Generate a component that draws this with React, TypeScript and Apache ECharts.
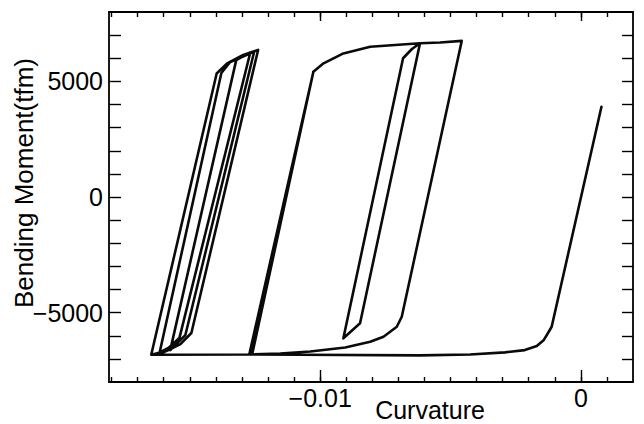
import React, { useEffect, useRef } from "react";
import * as echarts from "echarts";

// Axis ranges and tick positions
const xRange = [-0.0181, 0.002];
const yRange = [-8000, 8000];
const xMajorTicks = [-0.01, 0];
const xMinorTicks = [
  -0.018, -0.017, -0.016, -0.015, -0.014, -0.013, -0.012, -0.011, -0.01, -0.009,
  -0.008, -0.007, -0.006, -0.005, -0.004, -0.003, -0.002, -0.001, 0, 0.001,
];
const yMajorTicks = [-5000, 0, 5000];
const yMinorTicks = [
  -7000, -6000, -5000, -4000, -3000, -2000, -1000, 0, 1000, 2000, 3000, 4000, 5000, 6000, 7000,
];

// Moment–curvature history, branch by branch: [curvature, moment (tfm)]
const leftLoad1: [number, number][] = [
  [-0.01648, -6820], [-0.01397, 5340], [-0.01357, 5780], [-0.01295, 6140], [-0.01238, 6360],
];
const leftUnload1: [number, number][] = [
  [-0.01238, 6360], [-0.01494, -5880], [-0.01536, -6360], [-0.01582, -6620], [-0.01617, -6790],
];
const leftLoad2: [number, number][] = [
  [-0.01617, -6790], [-0.01379, 5360], [-0.01345, 5840], [-0.01287, 6120], [-0.01253, 6290],
];
const leftUnload2: [number, number][] = [
  [-0.01253, 6290], [-0.01517, -5970], [-0.01556, -6400], [-0.01575, -6620],
];
const leftLoad3: [number, number][] = [
  [-0.01575, -6620], [-0.01322, 5920], [-0.01268, 6250],
];
const leftUnload3: [number, number][] = [
  [-0.01268, 6250], [-0.0154, -6100], [-0.01582, -6530], [-0.01621, -6750], [-0.01648, -6820],
];
const bottomLeft: [number, number][] = [
  [-0.01648, -6820], [-0.01268, -6810],
];
const middleLoad: [number, number][] = [
  [-0.01268, -6810], [-0.01026, 5420], [-0.00987, 5780], [-0.00911, 6210], [-0.00808, 6500],
  [-0.00617, 6650],
];
const innerUnload: [number, number][] = [
  [-0.00617, 6650], [-0.00847, -5460], [-0.00911, -6110],
];
const innerReload: [number, number][] = [
  [-0.00911, -6110], [-0.00682, 6000], [-0.00648, 6400], [-0.00617, 6650],
];
const topPlateau: [number, number][] = [
  [-0.00617, 6650], [-0.0054, 6680], [-0.00457, 6750],
];
const mainUnload: [number, number][] = [
  [-0.00457, 6750], [-0.00687, -5180], [-0.00706, -5610], [-0.00757, -6040], [-0.00808, -6260],
  [-0.00904, -6510], [-0.01038, -6680], [-0.01153, -6770], [-0.01261, -6810],
];
const elasticCycle: [number, number][] = [
  [-0.01261, -6810], [-0.01026, 5420], [-0.01272, -6810],
];
const finalBranch: [number, number][] = [
  [-0.01272, -6810], [-0.01077, -6820], [-0.00617, -6850], [-0.00425, -6810], [-0.00291, -6720],
  [-0.00215, -6620], [-0.00169, -6440], [-0.00142, -6180], [-0.00126, -5880], [-0.00112, -5610],
  [0.00079, 3900],
];

const history = [
  leftLoad1, leftUnload1, leftLoad2, leftUnload2, leftLoad3, leftUnload3, bottomLeft,
  middleLoad, innerUnload, innerReload, topPlateau, mainUnload, elasticCycle, finalBranch,
];

const FONT = "'Liberation Sans', Arial, Helvetica, sans-serif";
const INK = "#000";

const fmtNum = (v: number) => (v < 0 ? "\u2212" : "") + String(Math.abs(v));

export default function App() {
  const ref = useRef<HTMLDivElement>(null);

  useEffect(() => {
    if (!ref.current) return;
    const chart = echarts.init(ref.current, null, { renderer: "svg" });
    const path: [number, number][] = [];
    history.forEach((branch) => branch.forEach((p) => path.push(p)));

    const frameLine = { show: true, onZero: false, lineStyle: { color: INK, width: 1.8 } };
    const tickStyle = { color: INK, width: 1.4 };
    const baseX = {
      type: "value" as const,
      gridIndex: 0,
      min: xRange[0],
      max: xRange[1],
      splitLine: { show: false },
    };
    const baseY = {
      type: "value" as const,
      gridIndex: 0,
      min: yRange[0],
      max: yRange[1],
      splitLine: { show: false },
    };

    chart.setOption({
      animation: false,
      backgroundColor: "#fff",
      grid: { left: 109, right: 11, top: 12, bottom: 42, containLabel: false },
      xAxis: [
        {
          ...baseX,
          position: "bottom",
          axisLine: frameLine,
          axisTick: { show: true, inside: true, length: 12, customValues: xMajorTicks, lineStyle: tickStyle },
          axisLabel: {
            show: true,
            customValues: xMajorTicks,
            formatter: (v: number) => fmtNum(v),
            margin: 3,
            fontSize: 25,
            fontFamily: FONT,
            color: INK,
          },
        },
        {
          ...baseX,
          position: "bottom",
          axisLine: { show: false, onZero: false },
          axisTick: { show: true, inside: true, length: 5, customValues: xMinorTicks, lineStyle: tickStyle },
          axisLabel: { show: false },
        },
        {
          ...baseX,
          position: "top",
          axisLine: frameLine,
          axisTick: { show: true, inside: true, length: 5, customValues: xMinorTicks, lineStyle: tickStyle },
          axisLabel: { show: false },
        },
        {
          ...baseX,
          position: "top",
          axisLine: { show: false, onZero: false },
          axisTick: { show: true, inside: true, length: 9, customValues: xMajorTicks, lineStyle: tickStyle },
          axisLabel: { show: false },
        },
      ],
      yAxis: [
        {
          ...baseY,
          position: "left",
          axisLine: frameLine,
          axisTick: { show: true, inside: true, length: 12, customValues: yMinorTicks, lineStyle: tickStyle },
          axisLabel: {
            show: true,
            customValues: yMajorTicks,
            formatter: (v: number) => fmtNum(v),
            margin: 6,
            fontSize: 25,
            fontFamily: FONT,
            color: INK,
          },
        },
        {
          ...baseY,
          position: "right",
          axisLine: frameLine,
          axisTick: { show: true, inside: true, length: 11, customValues: yMinorTicks, lineStyle: tickStyle },
          axisLabel: { show: false },
        },
      ],
      graphic: [
        {
          type: "text",
          x: 430,
          y: 410,
          style: {
            text: "Curvature",
            font: `25px ${FONT}`,
            fill: INK,
            textAlign: "center",
            textVerticalAlign: "middle",
          },
        },
        {
          type: "text",
          x: 24,
          y: 183,
          rotation: Math.PI / 2,
          style: {
            text: "Bending Moment(tfm)",
            font: `26px ${FONT}`,
            fill: INK,
            textAlign: "center",
            textVerticalAlign: "middle",
          },
        },
      ],
      series: [
        {
          type: "line",
          xAxisIndex: 0,
          yAxisIndex: 0,
          data: path,
          showSymbol: false,
          symbol: "none",
          silent: true,
          lineStyle: { color: "#0a0a0a", width: 2.6, join: "round", cap: "round" },
        },
      ],
    });

    return () => chart.dispose();
  }, []);

  return (
    <div
      ref={ref}
      style={{ position: "fixed", left: 0, top: 0, width: 644, height: 424, background: "#fff" }}
    />
  );
}
